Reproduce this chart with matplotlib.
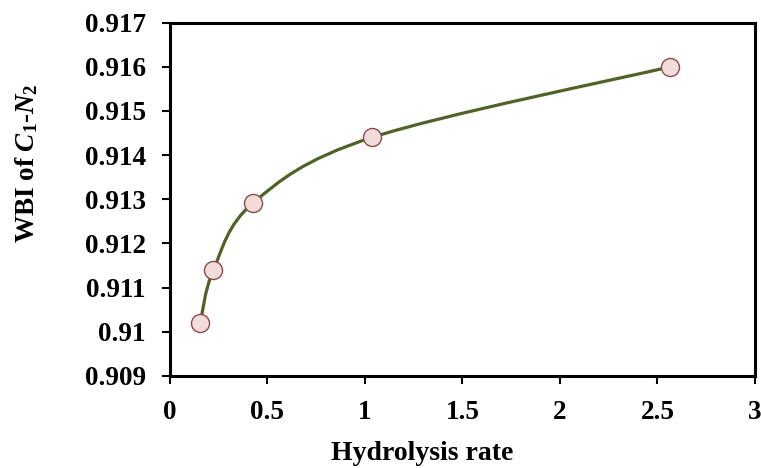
import numpy as np
import matplotlib
matplotlib.use("Agg")
import matplotlib.pyplot as plt
from matplotlib.path import Path
from matplotlib.patches import PathPatch

plt.rcParams['font.family'] = ['Liberation Serif', 'DejaVu Serif']
plt.rcParams['font.weight'] = 'bold'
plt.rcParams['mathtext.fontset'] = 'custom'
plt.rcParams['mathtext.rm'] = 'Liberation Serif:bold'
plt.rcParams['mathtext.it'] = 'Liberation Serif:italic:bold'
plt.rcParams['mathtext.bf'] = 'Liberation Serif:bold'

# data
hydrolysis_rate = [0.155, 0.222, 0.427, 1.036, 2.565]
wbi = [0.91020, 0.91139, 0.91292, 0.91440, 0.91600]

x_ticks = [0, 0.5, 1, 1.5, 2, 2.5, 3]
y_ticks = [0.909, 0.910, 0.911, 0.912, 0.913, 0.914, 0.915, 0.916, 0.917]
y_tick_labels = ["0.909", "0.91", "0.911", "0.912", "0.913", "0.914", "0.915", "0.916", "0.917"]

line_color = "#4F6228"
marker_face = "#F2DCDB"
marker_edge = "#8C4B4A"

fig = plt.figure(figsize=(7.61, 4.68), dpi=100)
ax = fig.add_axes([0.2234, 0.197, 0.7686, 0.7545])
ax.set_xlim(0, 3)
ax.set_ylim(0.909, 0.917)

# smoothed line (Excel-like bezier through the points), built in pixel-scaled space
w_px, h_px = 585.0, 353.0
sx = w_px / 3.0
sy = h_px / 0.008
px = np.array(hydrolysis_rate) * sx
py = (np.array(wbi) - 0.909) * sy
pts = np.column_stack([px, py])
n = len(pts)
verts = [pts[0]]
codes = [Path.MOVETO]
for i in range(n - 1):
    p0 = pts[i - 1] if i > 0 else pts[i]
    p1 = pts[i]
    p2 = pts[i + 1]
    p3 = pts[i + 2] if i + 2 < n else pts[i + 1]
    c1 = p1 + (p2 - p0) / 6.0
    c2 = p2 - (p3 - p1) / 6.0
    verts += [c1, c2, p2]
    codes += [Path.CURVE4] * 3
verts = np.array(verts)
verts[:, 0] = verts[:, 0] / sx
verts[:, 1] = verts[:, 1] / sy + 0.909
ax.add_patch(PathPatch(Path(verts, codes), facecolor="none", edgecolor=line_color,
                       lw=2.3, zorder=2))

ax.plot(hydrolysis_rate, wbi, linestyle="none", marker="o", markersize=13,
        markerfacecolor=marker_face, markeredgecolor=marker_edge,
        markeredgewidth=1.0, zorder=3)

ax.set_xticks(x_ticks)
ax.set_xticklabels([f"{t:g}" for t in x_ticks])
ax.set_yticks(y_ticks)
ax.set_yticklabels(y_tick_labels)
ax.tick_params(direction="out", length=5.5, width=1.5, labelsize=19.5)
ax.tick_params(axis="y", pad=12)
ax.tick_params(axis="x", pad=12)
for s in ax.spines.values():
    s.set_linewidth(2.2)

ax.set_xlabel("Hydrolysis rate", fontsize=20, fontweight="bold")
ax.xaxis.set_label_coords(0.432, -0.185)
ax.set_ylabel(r"WBI of $\mathit{C}_{1}$-$\mathit{N}_{2}$", fontsize=19.5,
              fontweight="bold")
ax.yaxis.set_label_coords(-0.222, 0.601)

fig.savefig("out.png", dpi=100)
